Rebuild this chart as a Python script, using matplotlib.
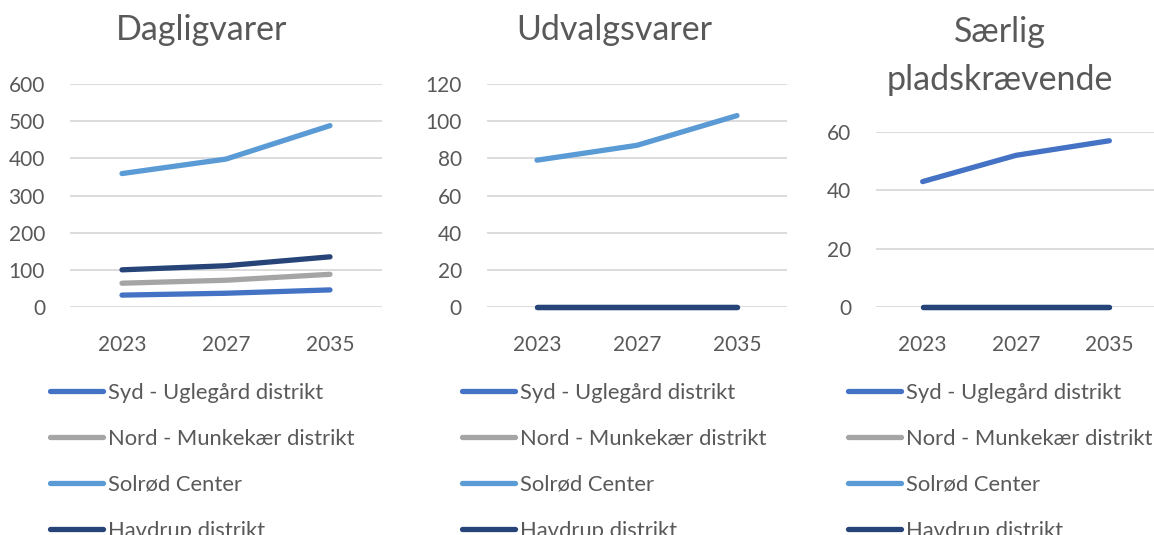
import numpy as np
import matplotlib.pyplot as plt

plt.rcParams['font.family'] = ['Lato', 'DejaVu Sans']

years = ['2023', '2027', '2035']
series = ['Syd - Uglegård distrikt', 'Nord - Munkekær distrikt',
          'Solrød Center', 'Havdrup distrikt']
colors = ['#4472C4', '#A5A5A5', '#5B9BD5', '#264478']

# Dagligvarer
dagligvarer = [
    [32, 37, 46],
    [64, 72, 88],
    [359, 398, 488],
    [100, 111, 135],
]
# Udvalgsvarer
udvalgsvarer = [
    [0, 0, 0],
    [0, 0, 0],
    [79, 87, 103],
    [0, 0, 0],
]
# Saerlig pladskraevende
saerlig = [
    [43, 52, 57],
    [0, 0, 0],
    [0, 0, 0],
    [0, 0, 0],
]

titles = ['Dagligvarer', 'Udvalgsvarer', 'Særlig\npladskrævende']
data = [dagligvarer, udvalgsvarer, saerlig]
ymax = [600, 120, 60]
ystep = [100, 20, 20]

W, H = 1154, 535
fig = plt.figure(figsize=(W/100, H/100), dpi=100)

# axes boxes in pixels: left, bottom(from top), width, top
boxes = [(70, 307, 312, 84), (487, 307, 300, 84), (876, 307, 280, 132)]
title_pos = [(202, 30), (614, 30), (1000, 56)]
legend_x = [50, 462, 848]

grey = '#595959'
for k in range(3):
    l, b, w, t = boxes[k]
    ax = fig.add_axes([l/W, 1-b/H, w/W, (b-t)/H])
    x = np.arange(len(years))
    for i in range(len(series)):
        ax.plot(x, data[k][i], color=colors[i], lw=3.8,
                solid_capstyle='round', label=series[i], zorder=3,
                clip_on=False)
    ax.set_xlim(-0.5, 2.5)
    ax.set_ylim(0, ymax[k])
    ax.set_yticks(np.arange(0, ymax[k]+1, ystep[k]))
    ax.set_xticks(x)
    ax.set_xticklabels(years)
    ax.grid(axis='y', color='#D9D9D9', lw=1.3, zorder=0)
    ax.set_axisbelow(True)
    for s in ax.spines.values():
        s.set_visible(False)
    ax.tick_params(length=0, labelsize=15, labelcolor=grey, pad=18)
    ax.tick_params(axis='x', pad=20)
    tx, ty = title_pos[k]
    fig.text(tx/W, 1-ty/H, titles[k], ha='center', va='center',
             fontsize=24.5, color=grey, linespacing=1.62)
    ax.legend(loc='upper left', bbox_to_anchor=(legend_x[k]/W, 1-383/H),
              bbox_transform=fig.transFigure, frameon=False, fontsize=15.8,
              labelcolor=grey, handlelength=2.4, handletextpad=0.23,
              labelspacing=1.18, borderpad=0, borderaxespad=0)

fig.savefig('out.png', dpi=100)
